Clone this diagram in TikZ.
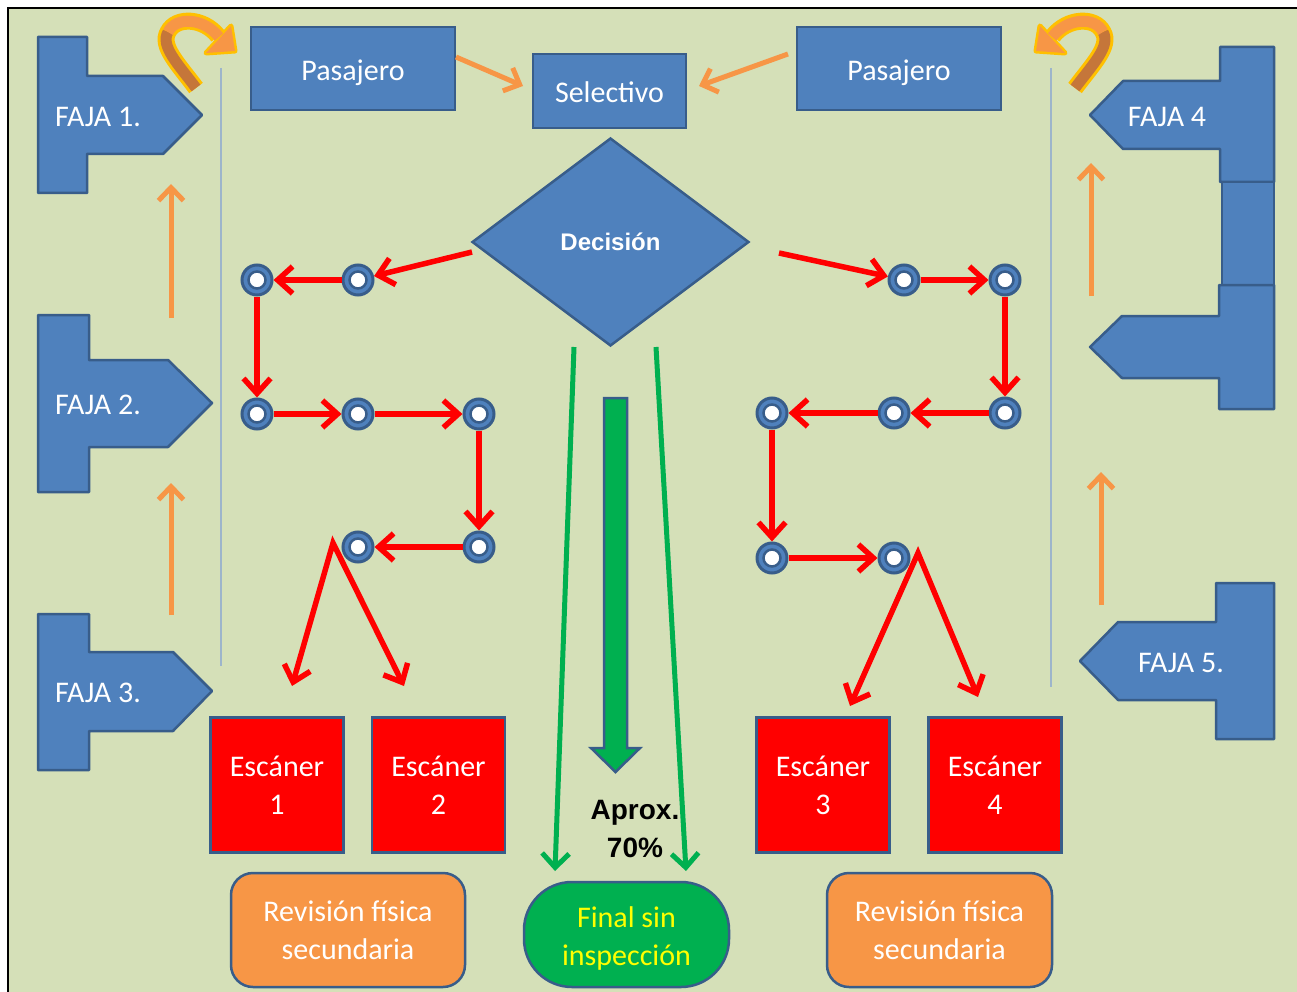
\documentclass[tikz,border=0pt]{standalone}
\usepackage{fontspec}
\setmainfont{Carlito}
\newfontfamily\arialf{Liberation Sans}
\usetikzlibrary{arrows.meta,shapes.geometric}
\definecolor{bgG}{HTML}{D5E0B8}
\definecolor{blueF}{HTML}{4F81BD}
\definecolor{blueD}{HTML}{385D8A}
\definecolor{orangeA}{HTML}{F79646}
\definecolor{goldA}{HTML}{FFC000}
\definecolor{brownA}{HTML}{C5763A}
\definecolor{greenA}{HTML}{00B050}
\definecolor{lineB}{HTML}{9DB5CB}
\definecolor{yellowT}{HTML}{FFFF00}
\begin{document}
\begin{tikzpicture}[x=1pt,y=-1pt,
  bigfont/.style={font=\fontsize{30}{38}\selectfont},
  boxtxt/.style={bigfont, text=white, align=center, inner sep=0},
  faja/.style={fill=blueF, draw=blueD, line width=2.5pt, line join=round},
  fajalbl/.style={bigfont, text=white, inner sep=0},
  bluebox/.style={rectangle, fill=blueF, draw=blueD, line width=2.5pt, text=white, bigfont, align=center, inner sep=0},
  scanbox/.style={rectangle, fill=red, draw=blueD, line width=2.5pt, text=white, bigfont, align=center, minimum width=133pt, minimum height=135pt, inner sep=0},
  revbox/.style={rectangle, rounded corners=22pt, fill=orangeA, draw=blueD, line width=2.5pt, text=white, bigfont, align=center, minimum height=114pt, inner sep=0},
  dot/.style={circle, minimum size=30pt, inner sep=0, fill=blueF, draw=blueD, line width=3pt,
    path picture={\draw[blueD, line width=2.5pt, fill=white] (path picture bounding box.center) circle[radius=8.5pt];}},
  redarr/.style={draw=red, line width=5.5pt, -{Straight Barb[length=15pt,width=27pt]}},
  redlam/.style={draw=red, line width=5.5pt, line join=miter, {Straight Barb[length=15pt,width=27pt]}-{Straight Barb[length=15pt,width=27pt]}},
  orarr/.style={draw=orangeA, line width=5pt, -{Straight Barb[length=13pt,width=25pt]}},
  grarr/.style={draw=greenA, line width=5pt, -{Straight Barb[length=14pt,width=27pt]}},
  sepline/.style={draw=lineB, line width=1.5pt}
]
\clip (0,0) rectangle (1297,992);
\fill[white] (0,0) rectangle (1297,992);
\draw[black, line width=1.5pt, fill=bgG] (8,8) rectangle (1330,1020);

% separator lines
\draw[sepline] (221,68) -- (221,666);
\draw[sepline] (1051,68) -- (1051,687);

% FAJA shapes
\draw[faja] (38,37) -- (87,37) -- (87,76) -- (163,76) -- (202,115) -- (163,154) -- (87,154) -- (87,193) -- (38,193) -- cycle;
\draw[faja] (38,315) -- (89,315) -- (89,360) -- (168,360) -- (212,403) -- (168,447) -- (89,447) -- (89,492) -- (38,492) -- cycle;
\draw[faja] (38,614) -- (89,614) -- (89,652) -- (173,652) -- (212,691) -- (173,731) -- (89,731) -- (89,770) -- (38,770) -- cycle;
\draw[faja] (1274,47) -- (1274,182) -- (1220,182) -- (1220,149) -- (1123,149) -- (1090,115) -- (1123,81) -- (1220,81) -- (1220,47) -- cycle;
\draw[faja] (1222,182) rectangle (1274,285);
\draw[faja] (1274,285) -- (1274,409) -- (1219,409) -- (1219,378) -- (1122,378) -- (1090,347) -- (1122,316) -- (1219,316) -- (1219,285) -- cycle;
\draw[faja] (1274,583) -- (1274,739) -- (1216,739) -- (1216,700) -- (1118,700) -- (1080,661) -- (1118,622) -- (1216,622) -- (1216,583) -- cycle;
\node[fajalbl] (f1) at (98,117) {FAJA 1.};
\node[fajalbl] (f2) at (98,405) {FAJA 2.};
\node[fajalbl] (f3) at (98,693) {FAJA 3.};
\node[fajalbl] (f4) at (1167,117) {FAJA 4};
\node[fajalbl] (f5) at (1181,663) {FAJA 5.};

% curved arrows
\begin{scope}
\draw[goldA, line width=17pt] (196,88) .. controls (178,64) and (160,46) .. (168,32) .. controls (176,16) and (204,18) .. (218,36);
\filldraw[goldA, line width=5pt, line join=round] (231,26) -- (235,51) -- (206,53) -- cycle;
\draw[brownA, line width=11pt] (196,88) .. controls (178,64) and (160,46) .. (168,32);
\draw[orangeA, line width=11pt] (168,32) .. controls (176,16) and (204,18) .. (219,37);
\fill[orangeA] (231,26) -- (235,51) -- (206,53) -- cycle;
\end{scope}
\begin{scope}[shift={(1271,0)}, xscale=-1]
\draw[goldA, line width=17pt] (196,88) .. controls (178,64) and (160,46) .. (168,32) .. controls (176,16) and (204,18) .. (218,36);
\filldraw[goldA, line width=5pt, line join=round] (231,26) -- (235,51) -- (206,53) -- cycle;
\draw[brownA, line width=11pt] (196,88) .. controls (178,64) and (160,46) .. (168,32);
\draw[orangeA, line width=11pt] (168,32) .. controls (176,16) and (204,18) .. (219,37);
\fill[orangeA] (231,26) -- (235,51) -- (206,53) -- cycle;
\end{scope}

% top boxes
\node[bluebox, minimum width=204pt, minimum height=83pt, label={[boxtxt, yshift=-4pt]center:Pasajero}] (pasL) at (353,68.5) {};
\node[bluebox, minimum width=204pt, minimum height=83pt, label={[boxtxt, yshift=-4pt]center:Pasajero}] (pasR) at (899,68.5) {};
\node[bluebox, minimum width=153pt, minimum height=74pt, label={[boxtxt, yshift=-1pt]center:Selectivo}] (sel) at (609.5,91) {};
\node[diamond, fill=blueF, draw=blueD, line width=2.5pt, inner sep=0, minimum width=277pt, minimum height=208pt, text=white, font=\arialf\bfseries\fontsize{24}{28}\selectfont] (dec) at (610.5,242) {Decisión};

% orange arrows
\coordinate (pa1) at (456,57); \coordinate (pa2) at (523,86);
\coordinate (pb1) at (788,54); \coordinate (pb2) at (699,86);
\draw[orarr] (pa1) -- (pa2);
\draw[orarr] (pb1) -- (pb2);
\coordinate (ou1) at (171,318); \coordinate (ou2) at (171,184);
\coordinate (ou3) at (171,615); \coordinate (ou4) at (171,483);
\coordinate (ou5) at (1091,296); \coordinate (ou6) at (1091,163);
\coordinate (ou7) at (1101,605); \coordinate (ou8) at (1101,472);
\draw[orarr] (ou1) -- (ou2);
\draw[orarr] (ou3) -- (ou4);
\draw[orarr] (ou5) -- (ou6);
\draw[orarr] (ou7) -- (ou8);

% left circle path
\node[dot] (L1) at (257,280) {};
\node[dot] (L2) at (358,280) {};
\node[dot] (L3) at (257,414) {};
\node[dot] (L4) at (358,414) {};
\node[dot] (L5) at (479,414) {};
\node[dot] (L6) at (479,547) {};
\node[dot] (L7) at (358,547) {};
\coordinate (dl) at (472,252);
\draw[redarr] (dl) -- (L2);
\draw[redarr] (L2) -- (L1);
\draw[redarr] (L1) -- (L3);
\draw[redarr] (L3) -- (L4);
\draw[redarr] (L4) -- (L5);
\draw[redarr] (L5) -- (L6);
\draw[redarr] (L6) -- (L7);
\coordinate (la) at (333,543); \coordinate (lb) at (292,686); \coordinate (lc) at (404,686);
\draw[redlam] (lb) -- (la) -- (lc);

% right circle path
\node[dot] (R1) at (904,280) {};
\node[dot] (R2) at (1005,280) {};
\node[dot] (R3) at (1005,413) {};
\node[dot] (R4) at (894,413) {};
\node[dot] (R5) at (772,413) {};
\node[dot] (R6) at (772,558) {};
\node[dot] (R7) at (894,558) {};
\coordinate (dr) at (779,253);
\draw[redarr] (dr) -- (R1);
\draw[redarr] (R1) -- (R2);
\draw[redarr] (R2) -- (R3);
\draw[redarr] (R3) -- (R4);
\draw[redarr] (R4) -- (R5);
\draw[redarr] (R5) -- (R6);
\draw[redarr] (R6) -- (R7);
\coordinate (ra) at (918,553); \coordinate (rb) at (850,706); \coordinate (rc) at (978,697);
\draw[redlam] (rb) -- (ra) -- (rc);

% green arrows
\coordinate (g1) at (574,347); \coordinate (g2) at (555,871);
\coordinate (g3) at (656,347); \coordinate (g4) at (686,871);
\draw[grarr] (g1) -- (g2);
\draw[grarr] (g3) -- (g4);
\draw[fill=greenA, draw=blueD, line width=2.5pt, line join=miter] (604,398) -- (627,398) -- (627,748) -- (640,748) -- (615.5,772) -- (591,748) -- (604,748) -- cycle;
\node[font=\arialf\bfseries\fontsize{28}{38}\selectfont, align=center, inner sep=0] (aprox) at (635,829) {Aprox.\\70\%};

% scanners
\node[scanbox] (e1) at (277,785) {Escáner\\1};
\node[scanbox] (e2) at (438.5,785) {Escáner\\2};
\node[scanbox] (e3) at (823,785) {Escáner\\3};
\node[scanbox] (e4) at (995,785) {Escáner\\4};

% bottom boxes
\node[revbox, minimum width=234pt] (revL) at (348,930) {Revisión física\\secundaria};
\node[revbox, minimum width=225pt] (revR) at (939.5,930) {Revisión física\\secundaria};
\node[rectangle, rounded corners=48pt, fill=greenA, draw=blueD, line width=2.5pt, minimum width=205pt, minimum height=105pt, inner sep=0,
  label={[boxtxt, text=yellowT, yshift=-4pt]center:Final sin\\inspección}] (fin) at (626.5,934.5) {};
\end{tikzpicture}
\end{document}
